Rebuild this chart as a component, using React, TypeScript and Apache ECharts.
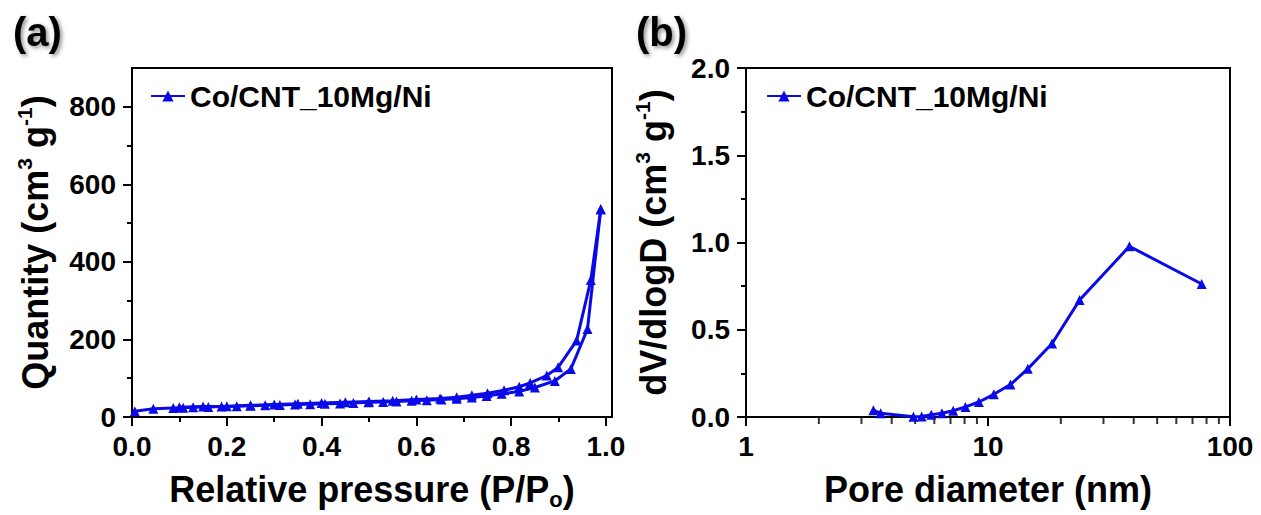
import React, { useEffect, useRef } from 'react';
import * as echarts from 'echarts';

const seriesName = 'Co/CNT_10Mg/Ni';

// Panel (a): N2 isotherm (adsorption + desorption branches)
const adsP = [0.006, 0.045, 0.087, 0.108, 0.129, 0.161, 0.189, 0.221, 0.25, 0.281, 0.312, 0.344, 0.376, 0.407, 0.439, 0.467, 0.499, 0.53, 0.558, 0.59, 0.622, 0.653, 0.685, 0.717, 0.748, 0.78, 0.817, 0.85, 0.892, 0.926, 0.961, 0.989];
const adsQ = [15, 21, 23, 24, 25, 26, 27, 28, 29, 30, 31, 32, 33, 34, 35, 36, 38, 39, 40, 42, 43, 45, 47, 50, 54, 60, 66, 76, 93, 124, 227, 536];
const desP = [0.989, 0.968, 0.938, 0.899, 0.875, 0.84, 0.817, 0.785, 0.75, 0.717, 0.685, 0.65, 0.6, 0.55, 0.5, 0.45, 0.4, 0.35, 0.3, 0.25, 0.2, 0.15, 0.1];
const desQ = [536, 353, 197, 128, 107, 88, 78, 69, 61, 56, 51, 48, 45, 42, 40, 38, 36, 34, 32, 30, 28, 27, 25];

// Panel (b): pore size distribution
const poreD = [3.36, 3.6, 4.92, 5.32, 5.83, 6.45, 7.18, 8.07, 9.17, 10.57, 12.38, 14.6, 18.4, 23.9, 38.4, 76.4];
const dVdlogD = [0.039, 0.021, 0.002, 0.003, 0.013, 0.021, 0.036, 0.058, 0.086, 0.13, 0.186, 0.276, 0.421, 0.67, 0.978, 0.762];

// Tick values
const xTicksA = [0, 0.2, 0.4, 0.6, 0.8, 1.0];
const xMinorA = [0.1, 0.3, 0.5, 0.7, 0.9];
const yTicksA = [0, 200, 400, 600, 800];
const yMinorA = [100, 300, 500, 700];
const yTicksB = [0, 0.5, 1.0, 1.5, 2.0];
const yMinorB = [0.25, 0.75, 1.25, 1.75];
const xMinorB = [2, 3, 4, 5, 6, 7, 8, 9, 20, 30, 40, 50, 60, 70, 80, 90];

const FONT = "'Liberation Sans', Arial, sans-serif";
const BLUE = '#0a0ae8';
const BLACK = '#000';

const labelStyle = { fontSize: 28, fontWeight: 'bold', fontFamily: FONT, color: BLACK };
const nameStyle = {
  fontSize: 36,
  fontWeight: 'bold',
  fontFamily: FONT,
  color: BLACK,
  lineHeight: 42,
  rich: {
    sup: { fontSize: 21, fontWeight: 'bold', fontFamily: FONT, color: BLACK, lineHeight: 22, verticalAlign: 'top' },
    sub: { fontSize: 22, fontWeight: 'bold', fontFamily: FONT, color: BLACK, lineHeight: 22, verticalAlign: 'bottom' },
  },
};
const panelTitleStyle = {
  fontSize: 40, fontWeight: 'bold', fontFamily: FONT, color: BLACK,
  textShadowColor: 'rgba(0,0,0,0.45)', textShadowBlur: 4, textShadowOffsetX: 2, textShadowOffsetY: 2,
};
const legendText = { fontSize: 30, fontWeight: 'bold', fontFamily: FONT, color: BLACK };

function mainAxis(extra: any) {
  return {
    axisLine: { show: true, lineStyle: { color: BLACK, width: 2 } },
    axisTick: { show: true, inside: false, length: 9, lineStyle: { color: BLACK, width: 2 } },
    splitLine: { show: false },
    axisLabel: { ...labelStyle },
    nameTextStyle: nameStyle,
    ...extra,
  };
}

function minorAxis(extra: any) {
  return {
    axisLine: { show: false },
    axisLabel: { show: false },
    splitLine: { show: false },
    ...extra,
  };
}

const lineSeries = {
  type: 'line',
  symbol: 'triangle',
  symbolSize: 10,
  showAllSymbol: true,
  lineStyle: { color: BLUE, width: 3 },
  itemStyle: { color: BLUE },
  z: 3,
};

export default function App() {
  const ref = useRef<HTMLDivElement>(null);

  useEffect(() => {
    if (!ref.current) return;
    const chart = echarts.init(ref.current, null, { renderer: 'svg' });
    const xA_max = 1.0127;
    const option: any = {
      animation: false,
      backgroundColor: '#fff',
      title: [
        { text: '(a)', left: 8, top: 7, textStyle: panelTitleStyle },
        { text: '(b)', left: 631, top: 7, textStyle: panelTitleStyle },
      ],
      legend: [
        { data: [seriesName], left: 145, top: 76, itemWidth: 34, itemHeight: 14, itemGap: 10, textStyle: legendText },
        { data: [seriesName], left: 761, top: 76, itemWidth: 34, itemHeight: 14, itemGap: 10, textStyle: legendText },
      ],
      grid: [
        { left: 132, top: 68, width: 480, height: 356, show: true, borderColor: BLACK, borderWidth: 2, backgroundColor: 'transparent' },
        { left: 746, top: 68, width: 484, height: 355, show: true, borderColor: BLACK, borderWidth: 2, backgroundColor: 'transparent' },
      ],
      xAxis: [
        mainAxis({
          type: 'value', gridIndex: 0, position: 'bottom', min: 0, max: xA_max,
          axisTick: { show: true, length: 9, customValues: xTicksA, lineStyle: { color: BLACK, width: 2 } },
          axisLabel: { ...labelStyle, margin: 15, customValues: xTicksA, formatter: (v: number) => v.toFixed(1) },
          name: 'Relative pressure (P/P{sub|o})', nameLocation: 'middle', nameGap: 51,
        }),
        minorAxis({
          type: 'value', gridIndex: 0, position: 'bottom', min: 0, max: xA_max,
          axisTick: { show: true, length: 5, customValues: xMinorA, lineStyle: { color: BLACK, width: 2 } },
        }),
        mainAxis({
          type: 'log', logBase: 10, gridIndex: 1, position: 'bottom', min: 1, max: 100,
          axisLabel: { ...labelStyle, margin: 15 },
          name: 'Pore diameter (nm)', nameLocation: 'middle', nameGap: 51,
        }),
      ],
      yAxis: [
        mainAxis({
          type: 'value', gridIndex: 0, position: 'left', min: 0, max: 900,
          axisTick: { show: true, length: 9, customValues: yTicksA, lineStyle: { color: BLACK, width: 2 } },
          axisLabel: { ...labelStyle, margin: 16, customValues: yTicksA },
          name: 'Quantity (cm{sup|3} g{sup|-1})', nameLocation: 'middle', nameGap: 76,
        }),
        minorAxis({
          type: 'value', gridIndex: 0, position: 'left', min: 0, max: 900,
          axisTick: { show: true, length: 5, customValues: yMinorA, lineStyle: { color: BLACK, width: 2 } },
        }),
        mainAxis({
          type: 'value', gridIndex: 1, position: 'left', min: 0, max: 2,
          axisTick: { show: true, length: 9, customValues: yTicksB, lineStyle: { color: BLACK, width: 2 } },
          axisLabel: { ...labelStyle, margin: 16, customValues: yTicksB, formatter: (v: number) => v.toFixed(1) },
          name: 'dV/dlogD (cm{sup|3} g{sup|-1})', nameLocation: 'middle', nameGap: 72,
        }),
        minorAxis({
          type: 'value', gridIndex: 1, position: 'left', min: 0, max: 2,
          axisTick: { show: true, length: 5, customValues: yMinorB, lineStyle: { color: BLACK, width: 2 } },
        }),
      ],
      series: [
        { ...lineSeries, name: seriesName, xAxisIndex: 0, yAxisIndex: 0, data: adsP.map((p, i) => [p, adsQ[i]]) },
        { ...lineSeries, name: seriesName, xAxisIndex: 0, yAxisIndex: 0, data: desP.map((p, i) => [p, desQ[i]]) },
        { ...lineSeries, name: seriesName, xAxisIndex: 2, yAxisIndex: 2, clip: false, data: poreD.map((d, i) => [d, dVdlogD[i]]) },
        {
          name: 'minorTicksB', type: 'scatter', xAxisIndex: 2, yAxisIndex: 2,
          data: xMinorB.map((v) => [v, 0]),
          symbol: 'rect', symbolSize: [2, 6], symbolOffset: [0, 4], clip: false, silent: true,
          itemStyle: { color: BLACK }, z: 1,
        },
      ],
    };
    chart.setOption(option);
    return () => chart.dispose();
  }, []);

  return (
    <div
      ref={ref}
      style={{ position: 'fixed', left: 0, top: 0, width: 1261, height: 515, background: '#fff' }}
    />
  );
}
